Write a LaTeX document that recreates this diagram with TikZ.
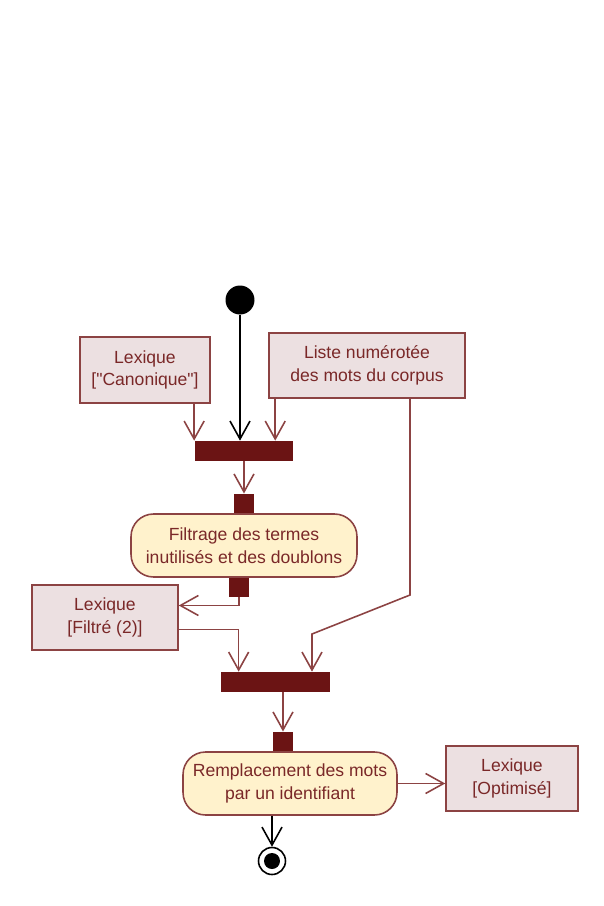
\documentclass[tikz,border=0pt]{standalone}
\usepackage{fontspec}
\setmainfont{Liberation Sans}[Ligatures=TeXOff]
\usetikzlibrary{positioning,calc,arrows.meta}
\definecolor{umltext}{HTML}{7A2828}
\definecolor{umlline}{HTML}{8C4343}
\definecolor{objfill}{HTML}{ECE0E1}
\definecolor{actfill}{HTML}{FFF2CC}
\definecolor{barred}{HTML}{6B1414}

\begin{document}
\begin{tikzpicture}[
  x=0.02cm, y=-0.02cm,
  every node/.style={font=\fontsize{10}{13}\selectfont, text=umltext},
  objbox/.style={draw=umlline, fill=objfill, line width=0.9pt,
                 inner sep=0pt, minimum height=1.3cm, align=center},
  action/.style={draw=umlline, fill=actfill, rounded corners=0.45cm,
                 line width=0.9pt, inner sep=0pt, minimum height=1.26cm,
                 align=center},
  forkbar/.style={fill=barred, inner sep=0pt, minimum height=0.4cm},
  pinbox/.style={fill=barred, inner sep=0pt, minimum width=0.4cm,
                 minimum height=0.38cm},
  arr/.style={-{Straight Barb[length=3.6mm,width=4mm]}, draw=umlline,
              line width=0.9pt}
]
  \useasboundingbox (0,0) rectangle (603,906);

  % Start and inputs
  \node[circle, fill=black, minimum size=0.58cm, inner sep=0pt] (start) at (240,300) {};
  \node[objbox, minimum width=2.6cm, minimum height=1.32cm] (canon) at (145,370)
    {Lexique\\{["Canonique"]}};
  \node[objbox, minimum width=3.92cm] (liste) at (367,365.5)
    {Liste numérotée\\des mots du corpus};

  % First join and action
  \node[forkbar, minimum width=1.98cm] (fork1) at (244,451) {};
  \node[action, minimum width=4.52cm] (filtrage) at (244,545.5)
    {Filtrage des termes\\inutilisés et des doublons};
  \node[pinbox, above=0pt of filtrage.north] (pinin1) {};
  \node[pinbox, below=0pt of filtrage.south, xshift=-0.1cm] (pinout1) {};
  \node[objbox, minimum width=2.92cm] (filtre) at (105,617.5)
    {Lexique\\{[Filtré (2)]}};

  % Second join and action
  \node[forkbar, minimum width=2.18cm] (fork2) at (275.5,682) {};
  \node[action, minimum width=4.28cm] (rempl) at (290,783.5)
    {Remplacement des mots\\par un identifiant};
  \node[pinbox, above=0pt of rempl.north, xshift=-0.14cm] (pinin2) {};
  \node[objbox, minimum width=2.64cm] (optim) at (512,778.5)
    {Lexique\\{[Optimisé]}};

  % End
  \node[circle, draw=black, line width=0.9pt, minimum size=0.54cm, inner sep=0pt] (fin) at (272,861) {};
  \node[circle, fill=black, minimum size=0.32cm, inner sep=0pt] (finpt) at (fin) {};

  % Flows into first join
  \draw[arr, draw=black] (start.south) -- (start |- fork1.north);
  \draw[arr] (canon.south -| fork1.west) -- (fork1.north west);
  \coordinate (l1) at ($(liste.south west)+(7,0)$);
  \draw[arr] (l1) -- (l1 |- fork1.north);

  % Liste goes on to the second join
  \coordinate (l2) at ($(liste.south)+(43,0)$);
  \coordinate (bend1) at (410,595);
  \coordinate (bend2) at (312,634);
  \draw[arr] (l2) -- (bend1) -- (bend2) -- (bend2 |- fork2.north);

  \draw[arr] (fork1.south) -- (pinin1.north);
  \draw[arr] (pinout1.south) |- ($(filtre.east)+(0,-12)$);
  \draw[arr] ($(filtre.east)+(0,12)$) -| ($(fork2.north west)+(18,0)$);

  \draw[arr] (pinin2.north |- fork2.south) -- (pinin2.north);
  \draw[arr] (rempl.east) -- (optim.west |- rempl.east);
  \draw[arr, draw=black] (fin.north |- rempl.south) -- (fin.north);
\end{tikzpicture}
\end{document}
